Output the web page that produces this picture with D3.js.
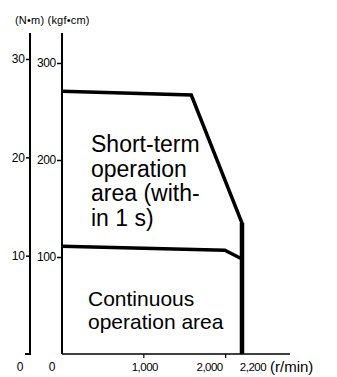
<!DOCTYPE html>
<html>
<head>
<meta charset="utf-8">
<script src="https://cdn.jsdelivr.net/npm/d3@7"></script>
<style>
  body { margin: 0; background: #fff; }
  svg { display: block; font-family: "Liberation Sans", Arial, sans-serif; }
</style>
</head>
<body>
<div id="wrapper"></div>
<script>
// speed (r/min) / torque (kgf·cm) points
const shortTermSpeed = [0, 1580, 2200, 2200];
const shortTermTorque = [271, 267, 135, 0];
const continuousSpeed = [0, 1990, 2200];
const continuousTorque = [111, 107, 98];

const nmTicks = [10, 20, 30];
const kgfTicks = [100, 200, 300];
const speedTicks = [1000, 2000, 2200];
const speedTickMarks = [1000, 2000];

const shortTermLabel = ["Short-term", "operation", "area (with-", "in 1 s)"];
const continuousLabel = ["Continuous", "operation area"];

function drawChart() {
  const width = 337;
  const height = 377;

  const svg = d3.select("#wrapper")
    .append("svg")
    .attr("width", width)
    .attr("height", height);

  // scales
  const x = d3.scaleLinear().domain([0, 2200]).range([62, 242]);
  const yKgf = d3.scaleLinear().domain([0, 300]).range([354, 63]);
  const yNm = d3.scaleLinear().domain([0, 30]).range([354, 59]);
  const nmAxisX = 30;
  const kgfAxisX = x(0);
  const axisTop = 33;

  // unit label on top
  svg.append("text")
    .attr("x", 15)
    .attr("y", 24)
    .style("font-size", "11px")
    .style("letter-spacing", "0.2px")
    .text("(N•m) (kgf•cm)");

  // N·m axis
  const nmAxis = svg.append("g")
    .attr("transform", `translate(${nmAxisX},0)`)
    .call(d3.axisLeft(yNm).tickValues(nmTicks).tickSize(4).tickPadding(1))
    .attr("font-size", 12)
    .attr("font-family", null);
  nmAxis.select(".domain").remove();
  nmAxis.selectAll(".tick line").attr("stroke-width", 1.5);

  svg.append("path")
    .attr("d", `M${nmAxisX},${axisTop}V${yNm(0)}H${nmAxisX - 5}`)
    .attr("fill", "none")
    .attr("stroke", "black")
    .attr("stroke-width", 2);

  // kgf·cm axis
  const kgfAxis = svg.append("g")
    .attr("transform", `translate(${kgfAxisX},0)`)
    .call(d3.axisLeft(yKgf).tickValues(kgfTicks).tickSize(5).tickPadding(1))
    .attr("font-size", 12)
    .attr("font-family", null);
  kgfAxis.select(".domain").remove();
  kgfAxis.selectAll(".tick line").attr("stroke-width", 1.5);
  kgfAxis.selectAll(".tick text").style("letter-spacing", "-0.3px");

  svg.append("line")
    .attr("x1", kgfAxisX).attr("x2", kgfAxisX)
    .attr("y1", axisTop).attr("y2", yKgf(0))
    .attr("stroke", "black")
    .attr("stroke-width", 2);

  // zero labels under both torque axes
  svg.selectAll(".zero")
    .data([nmAxisX, kgfAxisX])
    .join("text")
    .attr("class", "zero")
    .attr("x", (d) => d - 10)
    .attr("y", yKgf(0) + 17)
    .attr("text-anchor", "middle")
    .style("font-size", "12px")
    .text("0");

  // speed axis
  svg.append("line")
    .attr("x1", kgfAxisX).attr("x2", 290)
    .attr("y1", yKgf(0)).attr("y2", yKgf(0))
    .attr("stroke", "black")
    .attr("stroke-width", 1.5);

  svg.selectAll(".speed-tick")
    .data(speedTickMarks)
    .join("line")
    .attr("class", "speed-tick")
    .attr("x1", (d) => x(d)).attr("x2", (d) => x(d))
    .attr("y1", yKgf(0)).attr("y2", yKgf(0) + 4)
    .attr("stroke", "black")
    .attr("stroke-width", 1.2);

  const labelShift = { 1000: 1, 2000: -16, 2200: 11 };
  svg.selectAll(".speed-label")
    .data(speedTicks)
    .join("text")
    .attr("class", "speed-label")
    .attr("x", (d) => x(d) + labelShift[d])
    .attr("y", yKgf(0) + 17)
    .attr("text-anchor", "middle")
    .style("font-size", "11.5px")
    .style("letter-spacing", "-0.5px")
    .text((d) => d3.format(",")(d));

  svg.append("text")
    .attr("x", 270)
    .attr("y", yKgf(0) + 18)
    .style("font-size", "15px")
    .text("(r/min)");

  // torque curves
  const line = d3.line()
    .x((d) => x(d[0]))
    .y((d) => yKgf(d[1]));

  const shortTerm = d3.zip(shortTermSpeed, shortTermTorque);

  svg.append("path")
    .attr("d", line(shortTerm))
    .attr("fill", "none")
    .attr("stroke", "black")
    .attr("stroke-width", 3.5)
    .attr("stroke-linejoin", "miter");

  // the speed-limit edge is drawn heavier
  svg.append("path")
    .attr("d", line(shortTerm.slice(-2)))
    .attr("stroke", "black")
    .attr("stroke-width", 4.5);

  svg.append("path")
    .attr("d", line(d3.zip(continuousSpeed, continuousTorque)))
    .attr("fill", "none")
    .attr("stroke", "black")
    .attr("stroke-width", 3.5);

  // area labels
  svg.append("text")
    .style("font-size", "23px")
    .selectAll("tspan")
    .data(shortTermLabel)
    .join("tspan")
    .attr("x", 91)
    .attr("y", (d, i) => 152 + i * 24.7)
    .text((d) => d);

  svg.append("text")
    .style("font-size", "21px")
    .selectAll("tspan")
    .data(continuousLabel)
    .join("tspan")
    .attr("x", 88)
    .attr("y", (d, i) => 306 + i * 22.5)
    .text((d) => d);
}

drawChart();
</script>
</body>
</html>
